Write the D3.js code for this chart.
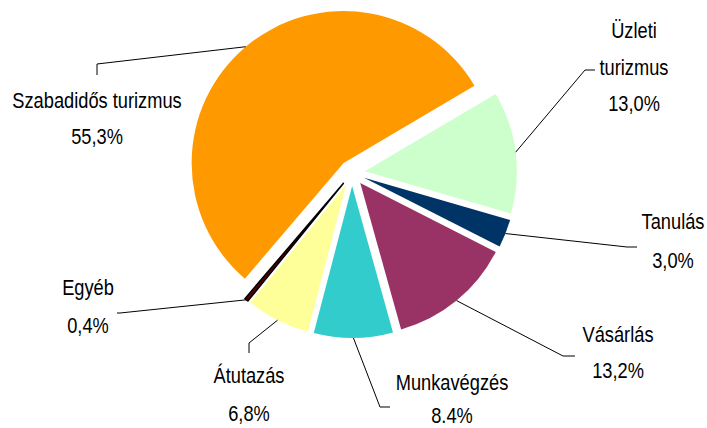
<!DOCTYPE html>
<html>
<head>
<meta charset="utf-8">
<script src="https://cdn.jsdelivr.net/npm/d3@7"></script>
<style>
  html, body { margin: 0; padding: 0; background: #fff; }
  svg { display: block; }
  text { font-family: "Liberation Sans", Arial, sans-serif; fill: #000; }
</style>
</head>
<body>
<svg id="chart" width="707" height="428"></svg>
<script>
// ---- data ----
const categories = ["Szabadidős turizmus", "Üzleti turizmus", "Tanulás", "Vásárlás", "Munkavégzés", "Átutazás", "Egyéb"];
const values = [55.3, 13.0, 3.0, 13.2, 8.4, 6.8, 0.4];
const valueLabels = ["55,3%", "13,0%", "3,0%", "13,2%", "8.4%", "6,8%", "0,4%"];
const nameLines = [["Szabadidős turizmus"], ["Üzleti", "turizmus"], ["Tanulás"], ["Vásárlás"], ["Munkavégzés"], ["Átutazás"], ["Egyéb"]];

// ---- style / layout ----
const colors = ["#FF9900", "#CCFFCC", "#003366", "#993366", "#33CCCC", "#FFFF99", "#5a0000"];
const cx = 352, cy = 173, radius = 152, explode = 13;
const startDeg = 220.5;
const fontSize = 22, squeeze = 0.83;
// label anchor (center x, baselines) and leader elbow / end points
const labelLayout = [
  { x: 97,  ys: [108, 144],      elbow: [97, 64],   end: [97, 75] },
  { x: 634, ys: [38, 75, 111],   elbow: [585, 70],  end: [595, 70] },
  { x: 673, ys: [229, 268],      elbow: [627, 247], end: [637, 247] },
  { x: 618, ys: [342, 378],      elbow: [563, 356], end: [575, 356] },
  { x: 452, ys: [390, 423],      elbow: [380, 407], end: [390, 407] },
  { x: 249, ys: [383, 421],      elbow: [249, 343], end: [249, 353] },
  { x: 88,  ys: [295, 333],      elbow: [120, 313], end: [117, 313] }
];

const svg = d3.select("#chart");
const data = categories.map((c, i) => ({ name: c, value: values[i], i }));

const start = startDeg * Math.PI / 180;
const pie = d3.pie().sort(null).value(d => d.value).startAngle(start).endAngle(start + 2 * Math.PI);
const arcs = pie(data);
const arc = d3.arc().innerRadius(0).outerRadius(radius);

const g = svg.append("g").attr("transform", `translate(${cx},${cy})`);

function offset(a) {
  const m = (a.startAngle + a.endAngle) / 2;
  return [explode * Math.sin(m), -explode * Math.cos(m)];
}

g.selectAll("path.slice").data(arcs).enter().append("path")
  .attr("class", "slice")
  .attr("d", arc)
  .attr("transform", d => { const o = offset(d); return `translate(${o[0]},${o[1]})`; })
  .attr("fill", d => colors[d.data.i])
  .attr("stroke", d => d.data.i === 6 ? "#000" : "none")
  .attr("stroke-width", 1.5);

// leader lines
const lineGen = d3.line();
arcs.forEach(a => {
  const o = offset(a);
  const m = (a.startAngle + a.endAngle) / 2;
  const p0 = [cx + o[0] + radius * Math.sin(m), cy + o[1] - radius * Math.cos(m)];
  const L = labelLayout[a.data.i];
  svg.append("path")
    .attr("d", lineGen([p0, L.elbow, L.end]))
    .attr("fill", "none").attr("stroke", "#000").attr("stroke-width", 1);
});

// labels
arcs.forEach(a => {
  const i = a.data.i;
  const L = labelLayout[i];
  const lines = nameLines[i].concat([valueLabels[i]]);
  lines.forEach((t, k) => {
    svg.append("text")
      .attr("transform", `translate(${L.x},${L.ys[k]}) scale(${squeeze},1)`)
      .attr("text-anchor", "middle")
      .attr("font-size", fontSize)
      .text(t);
  });
});
</script>
</body>
</html>
